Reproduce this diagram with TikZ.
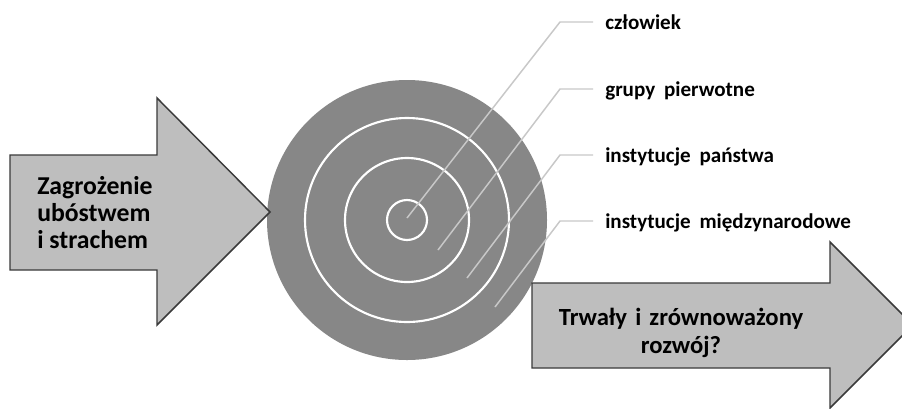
\documentclass[tikz,border=0pt]{standalone}
\usepackage{fontspec}
\setmainfont{Carlito}
\usetikzlibrary{positioning}
\definecolor{arrowgray}{HTML}{BEBEBE}
\definecolor{edgegray}{HTML}{3A3A3A}
\definecolor{discgray}{HTML}{878787}
\definecolor{leadgray}{HTML}{C8C8C8}

\begin{document}
\begin{tikzpicture}[x=0.75pt,y=-0.75pt,
  arrowshape/.style={fill=arrowgray,draw=edgegray,line width=1.1pt,line join=miter},
  ring/.style={draw=white,line width=1.6pt},
  leader/.style={draw=leadgray,line width=1.1pt},
  levellabel/.style={anchor=base west,inner sep=0pt,text height=10.5pt,text depth=0pt,
    font=\bfseries\fontsize{15.8}{18}\selectfont,
    execute at begin node={\spaceskip=0.42em\relax}},
  bigtext/.style={inner sep=0pt,font=\bfseries\fontsize{19.3}{20.25}\selectfont}]
\fill[white] (0,0) rectangle (902,408);
\clip (0,0) rectangle (902,408);
% tarcza
\node[circle,fill=discgray,minimum size=210pt,inner sep=0pt] (disc) at (407,220) {};
\draw[ring] (disc.center) circle[radius=15pt];
\draw[ring] (disc.center) circle[radius=46.5pt];
\draw[ring] (disc.center) circle[radius=76.5pt];
% strzałka lewa
\draw[arrowshape] (10,155) -- (157,155) -- (157,98) -- (270,212) -- (157,325)
  -- (157,270) -- (10,270) -- cycle;
\node[bigtext,align=left,anchor=west] (threat) at (37,213)
  {Zagrożenie\\ubóstwem\\i strachem};
% strzałka prawa
\draw[arrowshape] (532,283) -- (830,283) -- (830,242) -- (913,325) -- (830,408)
  -- (830,368) -- (532,368) -- cycle;
\node[bigtext,align=center,font=\bfseries\fontsize{18.5}{21}\selectfont,
  execute at begin node={\spaceskip=0.33em\relax}] (goal) at (681,333)
  {Trwały i zrównoważony\\rozwój?};
% poziomy
\node[levellabel] (lev1) at (605,29) {człowiek};
\node[levellabel] (lev2) at (605,96) {grupy pierwotne};
\node[levellabel] (lev3) at (605,162) {instytucje państwa};
\node[levellabel] (lev4) at (605,228) {instytucje międzynarodowe};
\coordinate (in1) at (407,218);
\coordinate (in2) at (438,250);
\coordinate (in3) at (467,278);
\coordinate (in4) at (495,307);
\foreach \i in {1,...,4}
  \draw[leader] (in\i) -- ([xshift=-33.75pt]lev\i.west) -- ([xshift=-9pt]lev\i.west);
\end{tikzpicture}
\end{document}
